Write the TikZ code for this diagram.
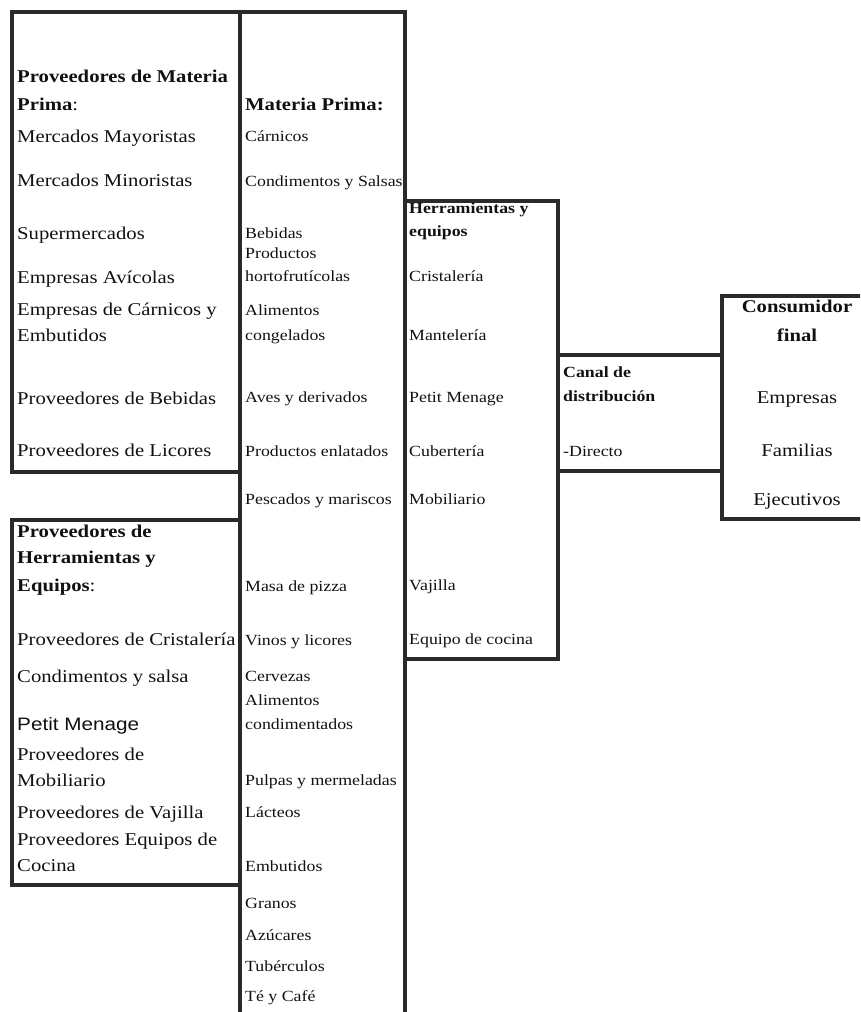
\documentclass[tikz,border=0pt]{standalone}
\usepackage{fontspec}
\setmainfont{Liberation Serif}[FakeStretch=1.15]
\newfontfamily\arialfont{Liberation Sans}[FakeStretch=1.15]
\definecolor{ink}{HTML}{111111}
\definecolor{frame}{HTML}{2A2A2A}
\tikzset{
  panel/.style={draw=frame,line width=3.6pt,anchor=north west,inner sep=0pt,outer sep=0pt},
  itemL/.style={anchor=base west,inner sep=0pt,text=ink,font=\fontsize{18}{20}\selectfont},
  itemS/.style={anchor=base west,inner sep=0pt,text=ink,font=\fontsize{15.5}{17}\selectfont},
  itemC/.style={itemL,anchor=base}
}

\begin{document}
\begin{tikzpicture}[x=1pt,y=-1pt]
  \useasboundingbox (0,0) rectangle (860,1012);
  \clip (0,0) rectangle (860,1012);

  % frames
  \node[panel,minimum width=228pt,minimum height=460pt] (provMP) at (12,12) {};
  \node[panel,minimum width=165pt,minimum height=1030pt] (matPrima) at (240,12) {};
  \node[panel,minimum width=228pt,minimum height=365pt] (provHE) at (12,520) {};
  \node[panel,minimum width=153pt,minimum height=458pt] (herrEq) at (405,201) {};
  \node[panel,minimum width=164pt,minimum height=116pt] (canal) at (558,355) {};
  \node[panel,minimum width=153pt,minimum height=223pt] (consumidor) at (722,296) {};

  % proveedores de materia prima
  \foreach \y/\t [count=\i] in {
      82.7/{\textbf{Proveedores de Materia}},
      110.7/{\textbf{Prima}:},
      142.7/{Mercados Mayoristas},
      186.7/{Mercados Minoristas},
      239/{Supermercados},
      283.3/{Empresas Avícolas},
      315/{Empresas de Cárnicos y},
      341.7/{Embutidos},
      404/{Proveedores de Bebidas},
      456.7/{Proveedores de Licores}}
    \node[itemL] (pmp\i) at (17,\y) {\t};

  % materia prima
  \node[itemL,font=\fontsize{18}{20}\selectfont\bfseries] (mpHead) at (245,110) {Materia Prima:};
  \foreach \y/\t [count=\i] in {
      141.7/{Cárnicos},
      186.7/{Condimentos y Salsas},
      238.3/{Bebidas},
      258.3/{Productos},
      281.7/{hortofrutícolas},
      315/{Alimentos},
      340/{congelados},
      402.7/{Aves y derivados},
      456/{Productos enlatados},
      504/{Pescados y mariscos},
      591/{Masa de pizza},
      645/{Vinos y licores},
      681.7/{Cervezas},
      705/{Alimentos},
      729/{condimentados},
      785/{Pulpas y mermeladas},
      817.3/{Lácteos},
      871.7/{Embutidos},
      908.3/{Granos},
      940/{Azúcares},
      971.7/{Tubérculos},
      1001.7/{Té y Café}}
    \node[itemS] (mp\i) at (245,\y) {\t};

  % proveedores de herramientas y equipos
  \foreach \y/\t [count=\i] in {
      537.3/{\textbf{Proveedores de}},
      563.3/{\textbf{Herramientas y}},
      591.7/{\textbf{Equipos}:},
      645/{Proveedores de Cristalería},
      682.7/{Condimentos y salsa},
      730/{{\arialfont Petit Menage}},
      760/{Proveedores de},
      786.7/{Mobiliario},
      818.3/{Proveedores de Vajilla},
      845/{Proveedores Equipos de},
      871.7/{Cocina}}
    \node[itemL] (phe\i) at (17,\y) {\t};

  % herramientas y equipos
  \foreach \y/\t [count=\i] in {
      213.3/{\textbf{Herramientas y}},
      236.7/{\textbf{equipos}},
      281.7/{Cristalería},
      340.7/{Mantelería},
      402.7/{Petit Menage},
      456/{Cubertería},
      504.3/{Mobiliario},
      590/{Vajilla},
      644.3/{Equipo de cocina}}
    \node[itemS] (he\i) at (409,\y) {\t};

  % canal
  \node[itemS] (canal1) at (563,377.3) {\textbf{Canal de}};
  \node[itemS] (canal2) at (563,401.7) {\textbf{distribución}};
  \node[itemS] (canal3) at (563,456) {-Directo};

  % consumidor final
  \foreach \y/\t [count=\i] in {
      312.3/{\textbf{Consumidor}},
      341.7/{\textbf{final}},
      403.3/{Empresas},
      456.7/{Familias},
      505/{Ejecutivos}}
    \node[itemC] (cf\i) at (797,\y) {\t};
\end{tikzpicture}
\end{document}
